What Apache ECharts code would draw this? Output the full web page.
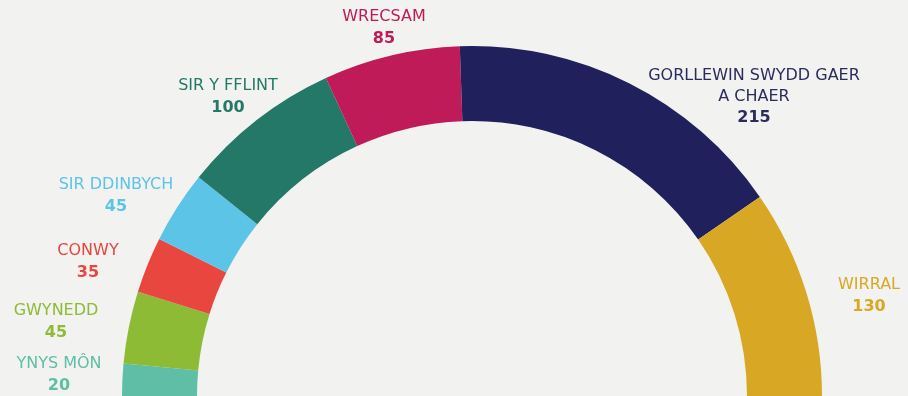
<!DOCTYPE html>
<html>
<head>
<meta charset="utf-8">
<script src="https://cdn.jsdelivr.net/npm/echarts@6/dist/echarts.min.js"></script>
<style>
  html, body { margin: 0; padding: 0; background: #f2f2f1; }
  #chart { width: 908px; height: 396px; }
</style>
</head>
<body>
<div id="chart"></div>
<script>
// data, left to right round the arc
const regions = ['YNYS MÔN', 'GWYNEDD', 'CONWY', 'SIR DDINBYCH', 'SIR Y FFLINT', 'WRECSAM', 'GORLLEWIN SWYDD GAER\nA CHAER', 'WIRRAL']
const counts = [20, 45, 35, 45, 100, 85, 215, 130]
const colors = ['#5ebfa6', '#8dbb35', '#e8463f', '#5cc4e6', '#247868', '#be1b58', '#1f205c', '#d8a825']
const textColors = ['#5ebfa6', '#8dbb35', '#e8463f', '#5cc4e6', '#247868', '#be1b58', '#2a2c5c', '#d8a825']

// label anchor (centre x, middle y) for each region
const labelAt = [[59, 375], [56, 322], [88, 262], [116, 196], [228, 97], [384, 28], [754, 97], [869, 296]]

const chart = echarts.init(document.getElementById('chart'), null, { renderer: 'canvas' })

const option = {
  backgroundColor: '#f2f2f1',
  animation: false,
  series: [
    {
      type: 'pie',
      silent: true,
      center: [472, 396],
      radius: [275, 350],
      startAngle: 180,
      endAngle: 0,
      clockwise: true,
      avoidLabelOverlap: false,
      labelLine: { show: false },
      label: {
        show: true,
        position: 'outside',
        formatter: p => `{n|${p.name.replace('\n', '}\n{n|')}}\n{v|${p.value}}`,
        rich: {
          n: { fontFamily: 'DejaVu Sans', fontSize: 16, lineHeight: 21, align: 'center' },
          v: { fontFamily: 'DejaVu Sans', fontSize: 16, fontWeight: 'bold', lineHeight: 22, align: 'center' }
        }
      },
      labelLayout: params => {
        const pos = labelAt[params.dataIndex]
        return { x: pos[0], y: pos[1], align: 'center', verticalAlign: 'middle' }
      },
      data: regions.map((name, i) => ({
        name,
        value: counts[i],
        itemStyle: { color: colors[i] },
        label: { color: textColors[i] }
      }))
    }
  ]
}

chart.setOption(option)
</script>
</body>
</html>
